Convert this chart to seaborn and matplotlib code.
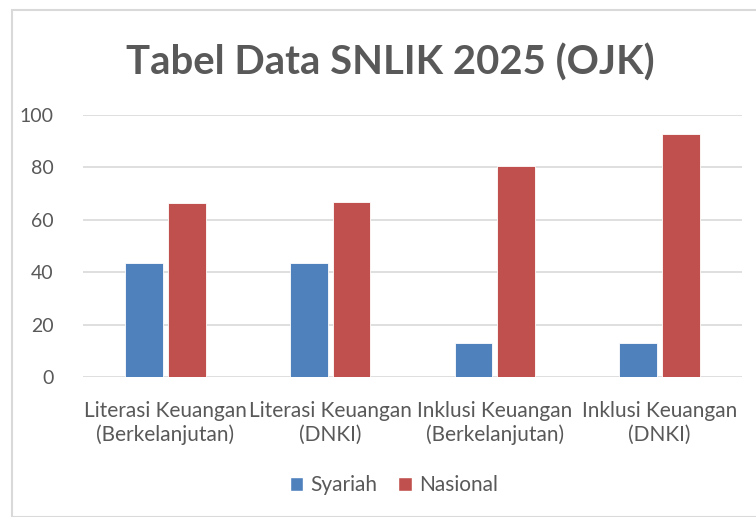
import matplotlib
matplotlib.use("Agg")
import matplotlib.pyplot as plt
import seaborn as sns
import pandas as pd
from matplotlib.patches import Rectangle

categories = ["Literasi Keuangan\n(Berkelanjutan)", "Literasi Keuangan\n(DNKI)",
              "Inklusi Keuangan\n(Berkelanjutan)", "Inklusi Keuangan\n(DNKI)"]
syariah = [43.42, 43.42, 12.88, 12.88]
nasional = [66.46, 66.64, 80.51, 92.74]
series_names = ["Syariah", "Nasional"]
colors = ["#4F81BD", "#C0504D"]
yticks = [0, 20, 40, 60, 80, 100]

df = pd.DataFrame({
    "cat": categories * 2,
    "val": syariah + nasional,
    "series": [series_names[0]] * 4 + [series_names[1]] * 4,
})

sns.set_theme(style="white")
plt.rcParams["font.family"] = ["Lato", "DejaVu Sans"]
TXT = "#595959"

W, H = 756, 517
fig = plt.figure(figsize=(W / 100, H / 100), dpi=100)
fig.patch.set_facecolor("white")
fig.patches.append(Rectangle((12 / W, 0), 1, 1 - 10 / H, transform=fig.transFigure,
                             fill=False, edgecolor="#D9D9D9", linewidth=1.5))

ax = fig.add_axes([83 / W, (H - 377) / H, (742 - 83) / W, (377 - 115) / H])
sns.barplot(data=df, x="cat", y="val", hue="series", palette=colors,
            width=0.52, gap=0.12, ax=ax, legend=False, saturation=1,
            edgecolor="white", linewidth=0.6)

ax.set_ylim(0, 100)
ax.set_yticks(yticks)
ax.set_xlim(-0.5, 3.5)
ax.grid(axis="y", color="#D9D9D9", linewidth=1.2)
ax.set_axisbelow(True)
for s in ax.spines.values():
    s.set_visible(False)
ax.set_xlabel("")
ax.set_ylabel("")
ax.tick_params(axis="both", length=0, colors=TXT)
ax.tick_params(axis="x", labelsize=15, pad=17)
ax.tick_params(axis="y", labelsize=14, pad=21)
for lbl in ax.get_xticklabels():
    lbl.set_linespacing(1.25)

fig.text(390 / W, 1 - 63 / H, "Tabel Data SNLIK 2025 (OJK)", ha="center", va="center",
         fontsize=28.8, fontweight="bold", color=TXT)

handles = [Rectangle((0, 0), 1, 1, facecolor=c) for c in colors]
fig.legend(handles, series_names, loc="center", bbox_to_anchor=(394 / W, 1 - 485 / H),
           ncol=2, frameon=False, fontsize=15, labelcolor=TXT,
           handlelength=0.65, handleheight=0.65, handletextpad=0.35, columnspacing=1.0)

fig.savefig("out.png", dpi=100)
